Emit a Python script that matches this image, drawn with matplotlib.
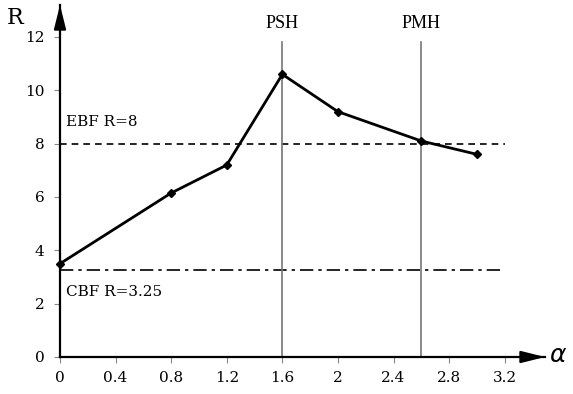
import matplotlib.pyplot as plt
import numpy as np

# response factor R against alpha
alpha = [0, 0.8, 1.2, 1.6, 2.0, 2.6, 3.0]
R = [3.5, 6.15, 7.2, 10.6, 9.2, 8.1, 7.6]

ebf_R = 8
cbf_R = 3.25
psh_alpha = 1.6
pmh_alpha = 2.6

xticks = [0, 0.4, 0.8, 1.2, 1.6, 2, 2.4, 2.8, 3.2]
xticklabels = ["0", "0.4", "0.8", "1.2", "1.6", "2", "2.4", "2.8", "3.2"]
yticks = [0, 2, 4, 6, 8, 10, 12]

serif = "DejaVu Serif"

fig = plt.figure(figsize=(5.73, 3.94), dpi=100)
ax = fig.add_axes([60 / 573, 37 / 394, 485 / 573, 352 / 394])
ax.set_xlim(0, 3.49)
ax.set_ylim(0, 13.2)

for s in ["top", "right"]:
    ax.spines[s].set_visible(False)
for s in ["left", "bottom"]:
    ax.spines[s].set_linewidth(1.6)
    ax.spines[s].set_color("black")

# arrow heads on the axes
arrow = dict(arrowstyle="-|>,head_length=1.2,head_width=0.3", color="black", lw=1.6,
             mutation_scale=12, shrinkA=0, shrinkB=0)
ax.annotate("", xy=(1, 0), xytext=(0.95, 0), xycoords="axes fraction",
            textcoords="axes fraction", arrowprops=arrow, annotation_clip=False)
ax.annotate("", xy=(0, 1), xytext=(0, 0.95), xycoords="axes fraction",
            textcoords="axes fraction", arrowprops=arrow, annotation_clip=False)

ax.set_xticks(xticks)
ax.set_xticklabels(xticklabels, fontfamily=serif, fontsize=11)
ax.set_yticks(yticks)
ax.set_yticklabels([str(v) for v in yticks], fontfamily=serif, fontsize=11)
ax.tick_params(axis="both", direction="out", length=4, width=0.8, color="#888888")
ax.tick_params(axis="x", pad=6)
ax.tick_params(axis="y", pad=7)

# reference levels
ax.plot([0, 3.2], [ebf_R, ebf_R], color="black", linestyle=(0, (4, 3)), linewidth=1.2)
ax.plot([0, 3.2], [cbf_R, cbf_R], color="black", linestyle=(0, (8, 3, 2, 3)), linewidth=1.2)
ax.text(0.04, ebf_R + 0.55, "EBF R=8", fontfamily=serif, fontsize=11, va="bottom", ha="left")
ax.text(0.04, cbf_R - 0.55, "CBF R=3.25", fontfamily=serif, fontsize=11, va="top", ha="left")

# performance levels
for a, name in [(psh_alpha, "PSH"), (pmh_alpha, "PMH")]:
    ax.plot([a, a], [0, 11.8], color="#777777", linewidth=1.2)
    ax.text(a, 12.5, name, fontfamily="Liberation Serif", fontstretch="condensed",
            fontsize=13, ha="center", va="center")

ax.plot(alpha, R, color="black", linewidth=2, marker="D", markersize=4, zorder=5, clip_on=False)

fig.text(15 / 573, 1 - 18 / 394, "R", fontfamily=serif, fontsize=16, ha="center", va="center")
fig.text(558 / 573, 1 - 355 / 394, "α", fontfamily="DejaVu Sans", fontstyle="italic",
         fontsize=18, ha="center", va="center")

plt.savefig("out.png", dpi=100)
